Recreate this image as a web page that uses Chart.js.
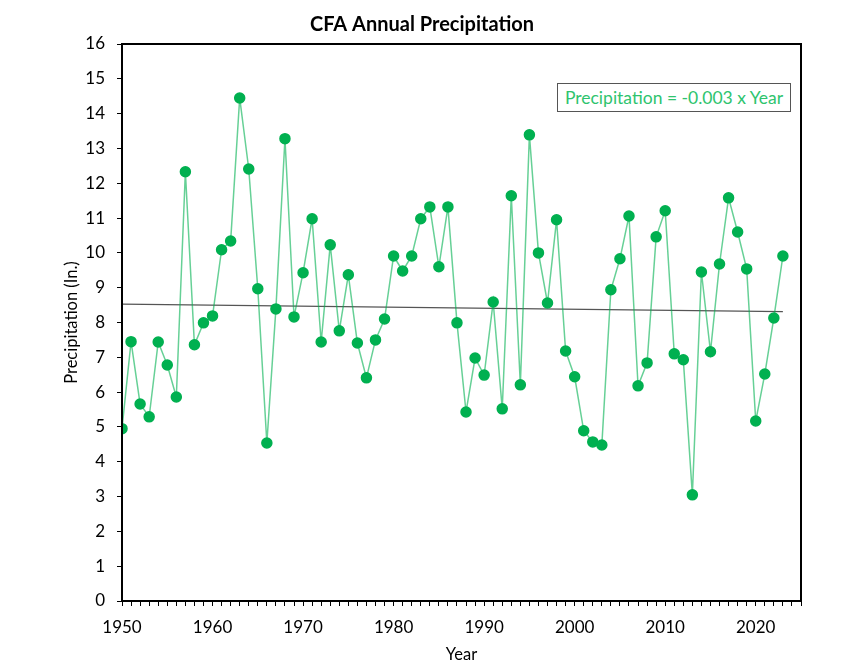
<!DOCTYPE html>
<html>
<head>
<meta charset="utf-8">
<script src="https://cdn.jsdelivr.net/npm/chart.js@4.4.0/dist/chart.umd.min.js"></script>
<style>
  body { margin: 0; background: #fff; }
  #wrap { position: relative; width: 850px; height: 669px; }
  #eq {
    position: absolute; left: 557px; top: 83px; width: 232px; height: 27px;
    border: 1.5px solid #555; background: #fff; color: #2ec46e;
    font: 17.5px Lato, sans-serif; line-height: 27px; text-align: center;
  }
</style>
</head>
<body>
<div id="wrap">
  <canvas id="precipChart" width="850" height="669"></canvas>
  <div id="eq">Precipitation = -0.003 x Year</div>
</div>
<script>
// annual precipitation (in.)
const years = [];
for (let y = 1950; y <= 2023; y++) years.push(y);
const precip = [
  4.95, 7.45, 5.66, 5.29, 7.44, 6.78, 5.86, 12.33, 7.36, 7.99,
  8.19, 10.09, 10.34, 14.45, 12.41, 8.97, 4.54, 8.39, 13.28, 8.16,
  9.43, 10.98, 7.44, 10.23, 7.76, 9.37, 7.41, 6.41, 7.50, 8.10,
  9.91, 9.48, 9.91, 10.98, 11.32, 9.60, 11.32, 7.99, 5.43, 6.98,
  6.49, 8.59, 5.52, 11.64, 6.21, 13.39, 10.00, 8.56, 10.95, 7.18,
  6.44, 4.89, 4.57, 4.48, 8.94, 9.83, 11.06, 6.18, 6.84, 10.46,
  11.21, 7.10, 6.93, 3.05, 9.45, 7.16, 9.68, 11.58, 10.60, 9.54,
  5.17, 6.52, 8.13, 9.91
];
// trend line end points
const trendYears = [1950, 2023];
const trendValues = [8.53, 8.31];

const font = 'Lato, sans-serif';

// black frame around the plot area
const frame = {
  id: 'frame',
  afterDraw(chart) {
    const a = chart.chartArea, ctx = chart.ctx;
    ctx.save();
    ctx.strokeStyle = '#000';
    ctx.lineWidth = 2;
    ctx.strokeRect(a.left, a.top, a.right - a.left, a.bottom - a.top);
    ctx.restore();
  }
};

new Chart(document.getElementById('precipChart').getContext('2d'), {
  type: 'line',
  data: {
    datasets: [{
      data: years.map((y, i) => ({ x: y, y: precip[i] })),
      borderColor: 'rgba(0, 176, 80, 0.6)',
      borderWidth: 1.5,
      pointBackgroundColor: '#00b050',
      pointBorderColor: '#00b050',
      pointRadius: 5,
      tension: 0
    }, {
      data: trendYears.map((y, i) => ({ x: y, y: trendValues[i] })),
      borderColor: '#555',
      borderWidth: 1.2,
      pointRadius: 0
    }]
  },
  options: {
    responsive: false,
    animation: false,
    layout: { padding: { left: 43, right: 49, top: 0, bottom: 0 } },
    plugins: {
      legend: { display: false },
      tooltip: { enabled: false },
      title: {
        display: true,
        text: 'CFA Annual Precipitation',
        color: '#000',
        font: { family: font, size: 20, weight: 'bold' },
        padding: { top: 13, bottom: 7 }
      }
    },
    scales: {
      x: {
        type: 'linear',
        min: 1950,
        max: 2025,
        afterFit(s) { s.height = 68; },
        ticks: {
          stepSize: 1,
          autoSkip: false,
          maxRotation: 0,
          color: '#000',
          padding: 11,
          font: { family: font, size: 17 },
          callback: v => (v % 10 === 0 ? String(v) : '')
        },
        grid: { drawOnChartArea: false, tickLength: 5, color: '#000' },
        border: { color: '#000', width: 2 },
        title: {
          display: true, text: 'Year', color: '#000',
          font: { family: font, size: 16.5 },
          padding: { top: 0, bottom: 4 }
        }
      },
      y: {
        min: 0,
        max: 16,
        afterFit(s) { s.width = 79; },
        ticks: {
          stepSize: 1,
          color: '#000',
          padding: 12,
          font: { family: font, size: 17 }
        },
        grid: { drawOnChartArea: false, tickLength: 5, color: '#000' },
        border: { color: '#000', width: 2 },
        title: {
          display: true, text: 'Precipitation (In.)', color: '#000',
          font: { family: font, size: 16.5 },
          padding: { top: 19, bottom: 0 }
        }
      }
    }
  },
  plugins: [frame]
});
</script>
</body>
</html>
